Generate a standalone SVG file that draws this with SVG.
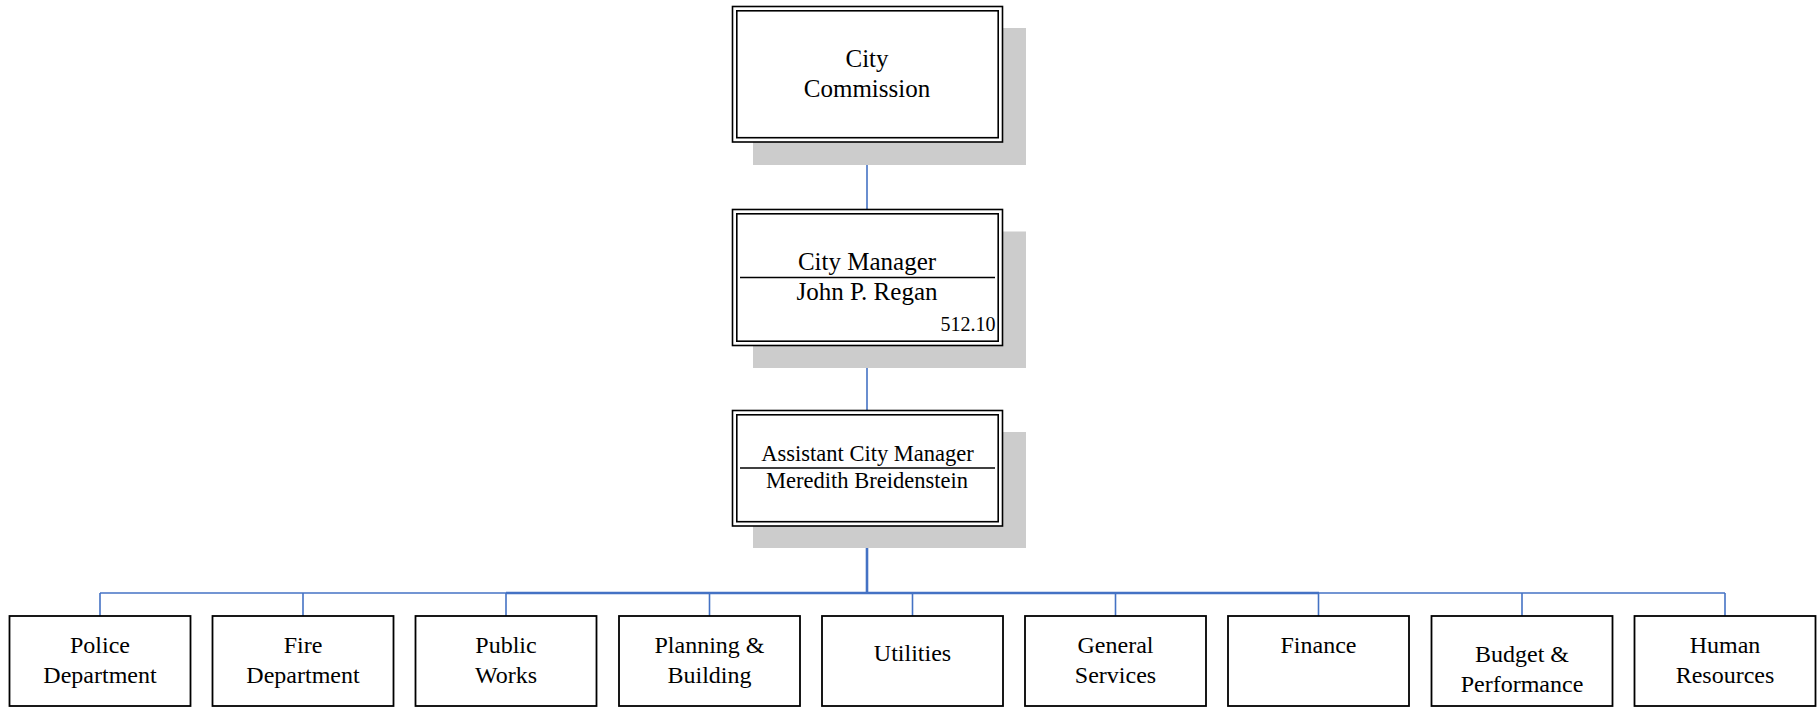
<svg xmlns="http://www.w3.org/2000/svg" width="1820" height="707" viewBox="0 0 1820 707">
<style>
.bg{fill:#ffffff}
.shadow{fill:#cccccc}
.outer{fill:#ffffff;stroke:#000000;stroke-width:1.6}
.inner{fill:none;stroke:#000000;stroke-width:1.6}
.box{fill:#ffffff;stroke:#000000;stroke-width:1.8}
.rule{stroke:#000000;stroke-width:1.6}
.t{font-family:"Liberation Serif","Times New Roman",serif;fill:#000000;text-anchor:middle}
.big{font-size:25px}
.mid{font-size:22.5px}
.sm{font-size:20px}
.dept{font-size:24px}
.conn{fill:none;stroke:#4472c4;stroke-width:1.6}
.trunk{fill:none;stroke:#4472c4;stroke-width:2.6}
</style>
<rect class="bg" x="0" y="0" width="1820" height="707"/>
<g id="connectors">
<line class="conn" x1="867" y1="142" x2="867" y2="209.5"/>
<line class="conn" x1="867" y1="345.5" x2="867" y2="410"/>
<line class="trunk" x1="867" y1="526" x2="867" y2="593"/>
<line class="conn" x1="100" y1="593" x2="1725" y2="593"/>
<line class="trunk" x1="506" y1="593" x2="1319" y2="593"/>
<line class="conn" x1="100" y1="593" x2="100" y2="616"/>
<line class="conn" x1="303" y1="593" x2="303" y2="616"/>
<line class="conn" x1="506" y1="593" x2="506" y2="616"/>
<line class="conn" x1="709.5" y1="593" x2="709.5" y2="616"/>
<line class="conn" x1="912.5" y1="593" x2="912.5" y2="616"/>
<line class="conn" x1="1115.5" y1="593" x2="1115.5" y2="616"/>
<line class="conn" x1="1318.5" y1="593" x2="1318.5" y2="616"/>
<line class="conn" x1="1522" y1="593" x2="1522" y2="616"/>
<line class="conn" x1="1725" y1="593" x2="1725" y2="616"/>
</g>
<g id="city-commission">
<rect class="shadow" x="753" y="28" width="273" height="137"/>
<rect class="outer" x="732.5" y="6.5" width="270" height="135.5"/>
<rect class="inner" x="736.8" y="10.8" width="261.4" height="126.9"/>
<text class="t big" x="867" y="66.5">City</text>
<text class="t big" x="867" y="96.5">Commission</text>
</g>
<g id="city-manager">
<rect class="shadow" x="753" y="231.5" width="273" height="136.5"/>
<rect class="outer" x="732.5" y="209.5" width="270" height="136"/>
<rect class="inner" x="736.8" y="213.8" width="261.4" height="127.4"/>
<text class="t big" x="867" y="270">City Manager</text>
<line class="rule" x1="740" y1="277.5" x2="995" y2="277.5"/>
<text class="t big" x="867" y="300">John P. Regan</text>
<text class="t sm" x="995.5" y="331" style="text-anchor:end">512.10</text>
</g>
<g id="assistant-city-manager">
<rect class="shadow" x="753" y="432" width="273" height="116"/>
<rect class="outer" x="732.5" y="410.5" width="270" height="115.5"/>
<rect class="inner" x="736.8" y="414.8" width="261.4" height="106.9"/>
<text class="t mid" x="867.5" y="461">Assistant City Manager</text>
<line class="rule" x1="740" y1="468" x2="995" y2="468"/>
<text class="t mid" x="867" y="487.5">Meredith Breidenstein</text>
</g>
<g id="police">
<rect class="box" x="9.5" y="616" width="181" height="90"/>
<text class="t dept" x="100" y="652.7">Police</text>
<text class="t dept" x="100" y="683.3">Department</text>
</g>
<g id="fire">
<rect class="box" x="212.5" y="616" width="181" height="90"/>
<text class="t dept" x="303" y="652.7">Fire</text>
<text class="t dept" x="303" y="683.3">Department</text>
</g>
<g id="public-works">
<rect class="box" x="415.5" y="616" width="181" height="90"/>
<text class="t dept" x="506" y="652.7">Public</text>
<text class="t dept" x="506" y="683.3">Works</text>
</g>
<g id="planning">
<rect class="box" x="619" y="616" width="181" height="90"/>
<text class="t dept" x="709.5" y="652.7">Planning &amp;</text>
<text class="t dept" x="709.5" y="683.3">Building</text>
</g>
<g id="utilities">
<rect class="box" x="822" y="616" width="181" height="90"/>
<text class="t dept" x="912.5" y="661">Utilities</text>
</g>
<g id="general-services">
<rect class="box" x="1025" y="616" width="181" height="90"/>
<text class="t dept" x="1115.5" y="652.7">General</text>
<text class="t dept" x="1115.5" y="683.3">Services</text>
</g>
<g id="finance">
<rect class="box" x="1228" y="616" width="181" height="90"/>
<text class="t dept" x="1318.5" y="652.7">Finance</text>
</g>
<g id="budget">
<rect class="box" x="1431.5" y="616" width="181" height="90"/>
<text class="t dept" x="1522" y="661.7">Budget &amp;</text>
<text class="t dept" x="1522" y="691.7">Performance</text>
</g>
<g id="human-resources">
<rect class="box" x="1634.5" y="616" width="181" height="90"/>
<text class="t dept" x="1725" y="652.7">Human</text>
<text class="t dept" x="1725" y="683.3">Resources</text>
</g>
</svg>
